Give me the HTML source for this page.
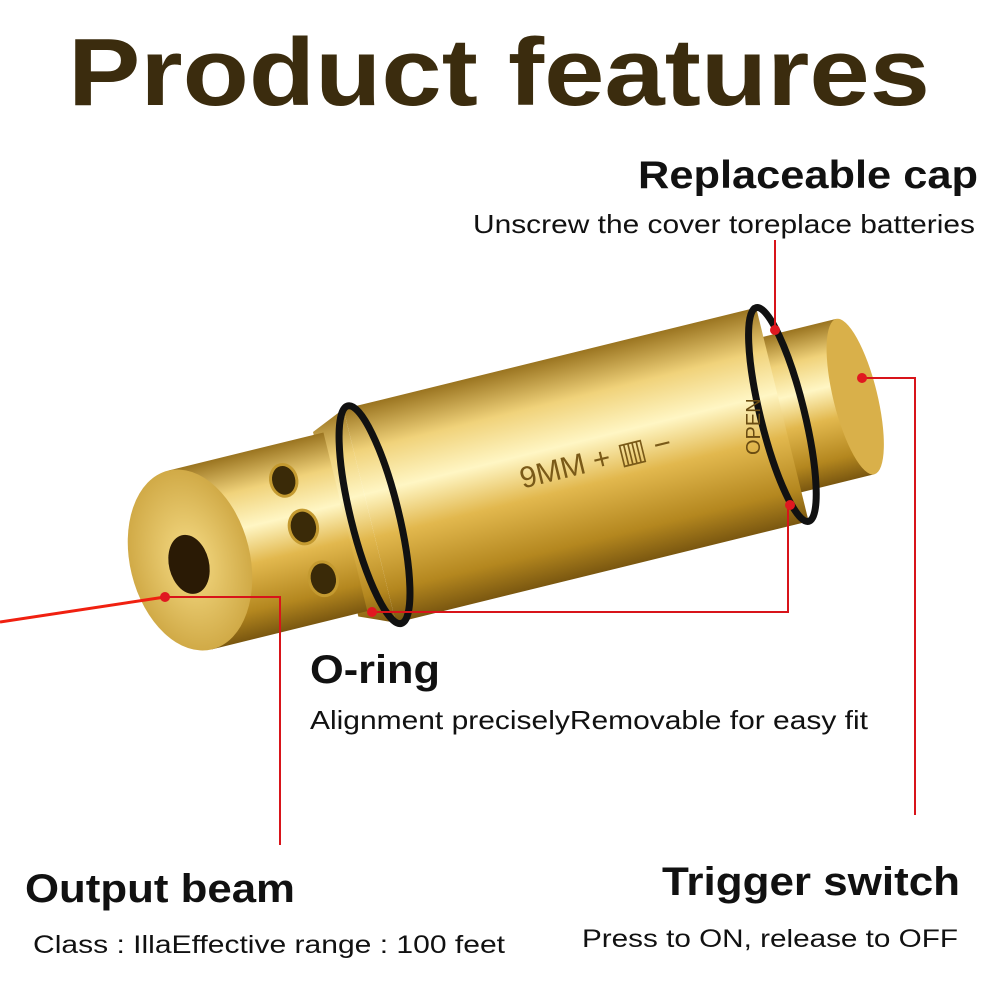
<!DOCTYPE html>
<html><head><meta charset="utf-8"><style>
html,body{margin:0;padding:0;background:#fff;}
body{width:1000px;height:1000px;overflow:hidden;position:relative;font-family:"Liberation Sans",sans-serif;}
</style></head><body>
<svg width="1000" height="1000" viewBox="0 0 1000 1000" xmlns="http://www.w3.org/2000/svg" style="position:absolute;left:0;top:0">
<defs>
<linearGradient id="gv" x1="0" y1="0" x2="0" y2="1">
<stop offset="0" stop-color="#9a7420"/>
<stop offset="0.2" stop-color="#f0d27a"/>
<stop offset="0.4" stop-color="#fff6c4"/>
<stop offset="0.6" stop-color="#e2b84e"/>
<stop offset="0.85" stop-color="#b4871f"/>
<stop offset="1" stop-color="#7a5710"/>
</linearGradient>
<radialGradient id="face" cx="0.5" cy="0.5" r="0.6">
<stop offset="0" stop-color="#f6dc86"/>
<stop offset="1" stop-color="#c9a03a"/>
</radialGradient>
</defs>
<text x="68" y="105" textLength="862" lengthAdjust="spacingAndGlyphs" font-size="96" font-weight="bold" fill="#3b2c0e" font-family="Liberation Sans, sans-serif">Product features</text>

<g transform="translate(190,560) rotate(-13.8)">
  <rect x="600" y="-80" width="85" height="160" fill="url(#gv)"/>
  <ellipse cx="685" cy="0" rx="22" ry="80" fill="#d9b04a"/>
  <rect x="185" y="-110" width="425" height="220" fill="url(#gv)"/>
  <ellipse cx="610" cy="0" rx="22" ry="110" fill="none" stroke="#111" stroke-width="7"/>
  <path d="M150,-95 L185,-110 L185,110 L150,95 Z" fill="url(#gv)"/>
  <rect x="0" y="-92" width="160" height="184" fill="url(#gv)"/>
  <ellipse cx="190" cy="0" rx="24" ry="112" fill="none" stroke="#111" stroke-width="7"/>
  <ellipse cx="110" cy="-55" rx="13" ry="16" fill="#3a2a08" stroke="#c49a30" stroke-width="3"/>
  <ellipse cx="118" cy="-5" rx="14" ry="17" fill="#3a2a08" stroke="#c49a30" stroke-width="3"/>
  <ellipse cx="125" cy="50" rx="14" ry="17" fill="#3a2a08" stroke="#c49a30" stroke-width="3"/>
  <ellipse cx="0" cy="0" rx="60" ry="92" fill="url(#face)"/>
  <ellipse cx="-2" cy="4" rx="20" ry="30" fill="#2a1a05"/>
  <text x="340" y="10" font-size="30" fill="#7a5a18" font-family="Liberation Sans, sans-serif">9MM + ▥ −</text>
</g>
<text transform="translate(760,455) rotate(-90)" font-size="20" fill="#6a4c12" font-family="Liberation Sans, sans-serif">OPEN</text>

<line x1="0" y1="622" x2="165" y2="597" stroke="#f02010" stroke-width="3"/>

<g stroke="#d8141a" stroke-width="2" fill="none">
<polyline points="165,597 280,597 280,845"/>
<polyline points="372,612 788,612 788,505"/>
<polyline points="775,330 775,240"/>
<polyline points="862,378 915,378 915,815"/>
</g>
<g fill="#e01820">
<circle cx="165" cy="597" r="5"/><circle cx="372" cy="612" r="5"/><circle cx="790" cy="505" r="5"/>
<circle cx="775" cy="330" r="5"/><circle cx="862" cy="378" r="5"/>
</g>

<g font-family="Liberation Sans, sans-serif" fill="#111" lengthAdjust="spacingAndGlyphs">
<text x="638" y="188" font-size="39" font-weight="bold" textLength="340" lengthAdjust="spacingAndGlyphs">Replaceable cap</text>
<text x="473" y="233" font-size="26" textLength="502" lengthAdjust="spacingAndGlyphs">Unscrew the cover toreplace batteries</text>
<text x="310" y="683" font-size="40" font-weight="bold" textLength="130" lengthAdjust="spacingAndGlyphs">O-ring</text>
<text x="310" y="729" font-size="26" textLength="558" lengthAdjust="spacingAndGlyphs">Alignment preciselyRemovable for easy fit</text>
<text x="25" y="902" font-size="40" font-weight="bold" textLength="270" lengthAdjust="spacingAndGlyphs">Output beam</text>
<text x="33" y="953" font-size="25" textLength="472" lengthAdjust="spacingAndGlyphs">Class : IllaEffective range : 100 feet</text>
<text x="662" y="895" font-size="40" font-weight="bold" textLength="298" lengthAdjust="spacingAndGlyphs">Trigger switch</text>
<text x="582" y="947" font-size="25" textLength="376" lengthAdjust="spacingAndGlyphs">Press to ON, release to OFF</text>
</g>
</svg>
</body></html>
